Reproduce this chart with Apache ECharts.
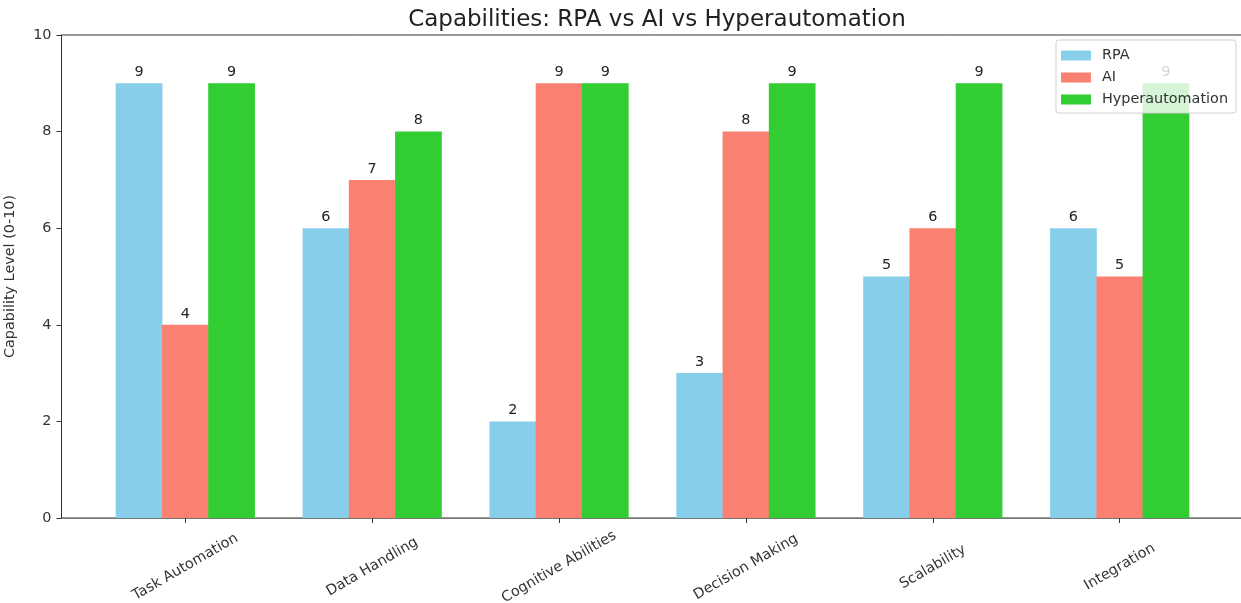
<!DOCTYPE html>
<html>
<head>
<meta charset="utf-8">
<script src="https://cdn.jsdelivr.net/npm/echarts@6/dist/echarts.min.js"></script>
<style>
  html, body { margin: 0; padding: 0; background: #fff; }
  #chart { width: 1241px; height: 603px; }
</style>
</head>
<body>
<div id="chart"></div>
<script>
// Capability scores per category for each approach
const categories = ['Task Automation', 'Data Handling', 'Cognitive Abilities', 'Decision Making', 'Scalability', 'Integration'];
const rpaValues = [9, 6, 2, 3, 5, 6];
const aiValues = [4, 7, 9, 8, 6, 5];
const hyperValues = [9, 8, 9, 9, 9, 9];
const yTicks = [0, 2, 4, 6, 8, 10];

const FONT = '"DejaVu Sans", "Liberation Sans", sans-serif';
const TXT = '#333';
const FS = 14.4;

// x range around the groups (bars of width 0.25, plus 5% margins)
const xMin = -0.6625, xMax = 5.6625;
const gridLeft = 61.5, gridWidth = 1182;
const pxPerUnit = gridWidth / (xMax - xMin);
const barW = 0.25 * pxPerUnit;

const chart = echarts.init(document.getElementById('chart'), null, { renderer: 'canvas' });

function barSeries(name, values, color) {
  return {
    name: name,
    type: 'bar',
    data: values.map((v, i) => [i, v]),
    barWidth: barW,
    barGap: '-1%',
    itemStyle: { color: color },
    label: {
      show: true,
      position: 'top',
      distance: 4,
      color: '#222',
      fontFamily: FONT,
      fontSize: FS,
      formatter: p => p.value[1]
    }
  };
}

chart.setOption({
  animation: false,
  backgroundColor: '#fff',
  textStyle: { fontFamily: FONT },
  title: {
    text: 'Capabilities: RPA vs AI vs Hyperautomation',
    left: 652,
    textAlign: 'center',
    top: 4,
    textStyle: { fontFamily: FONT, fontSize: 23, fontWeight: 'normal', color: '#222' }
  },
  legend: {
    orient: 'vertical',
    right: 5,
    top: 40,
    itemWidth: 30,
    itemHeight: 10,
    itemGap: 7,
    padding: [8, 8, 6, 5],
    icon: 'rect',
    backgroundColor: 'rgba(255,255,255,0.8)',
    borderColor: '#d0d0d0',
    borderWidth: 1,
    borderRadius: 3,
    textStyle: { fontFamily: FONT, fontSize: FS, lineHeight: 15, color: TXT, padding: [0, 0, 0, 6] },
    data: ['RPA', 'AI', 'Hyperautomation']
  },
  grid: {
    left: gridLeft,
    top: 35,
    width: gridWidth,
    bottom: 85,
    show: true,
    borderColor: '#333',
    borderWidth: 1,
    containLabel: false,
    outerBoundsMode: 'none'
  },
  xAxis: {
    type: 'value',
    min: xMin,
    max: xMax,
    splitLine: { show: false },
    axisLine: { show: true, onZero: false, lineStyle: { color: '#777', width: 1.2 } },
    axisTick: { show: true, customValues: categories.map((_, i) => i), length: 5, lineStyle: { color: '#333' } },
    axisLabel: {
      customValues: categories.map((_, i) => i),
      formatter: v => categories[Math.round(v)],
      rotate: 30,
      align: 'center',
      verticalAlign: 'middle',
      margin: 49,
      fontFamily: FONT,
      fontSize: FS,
      color: TXT
    }
  },
  yAxis: {
    type: 'value',
    min: 0,
    max: 10,
    interval: 2,
    name: 'Capability Level (0-10)',
    nameLocation: 'middle',
    nameGap: 44,
    nameTextStyle: { fontFamily: FONT, fontSize: FS, color: TXT },
    splitLine: { show: false },
    axisLine: { show: true, onZero: false, lineStyle: { color: '#333' } },
    axisTick: { show: true, length: 5, lineStyle: { color: '#333' } },
    axisLabel: {
      customValues: yTicks,
      margin: 10,
      fontFamily: FONT,
      fontSize: FS,
      color: TXT
    }
  },
  series: [
    barSeries('RPA', rpaValues, '#87CEEB'),
    barSeries('AI', aiValues, '#FA8072'),
    barSeries('Hyperautomation', hyperValues, '#32CD32')
  ]
});
</script>
</body>
</html>
